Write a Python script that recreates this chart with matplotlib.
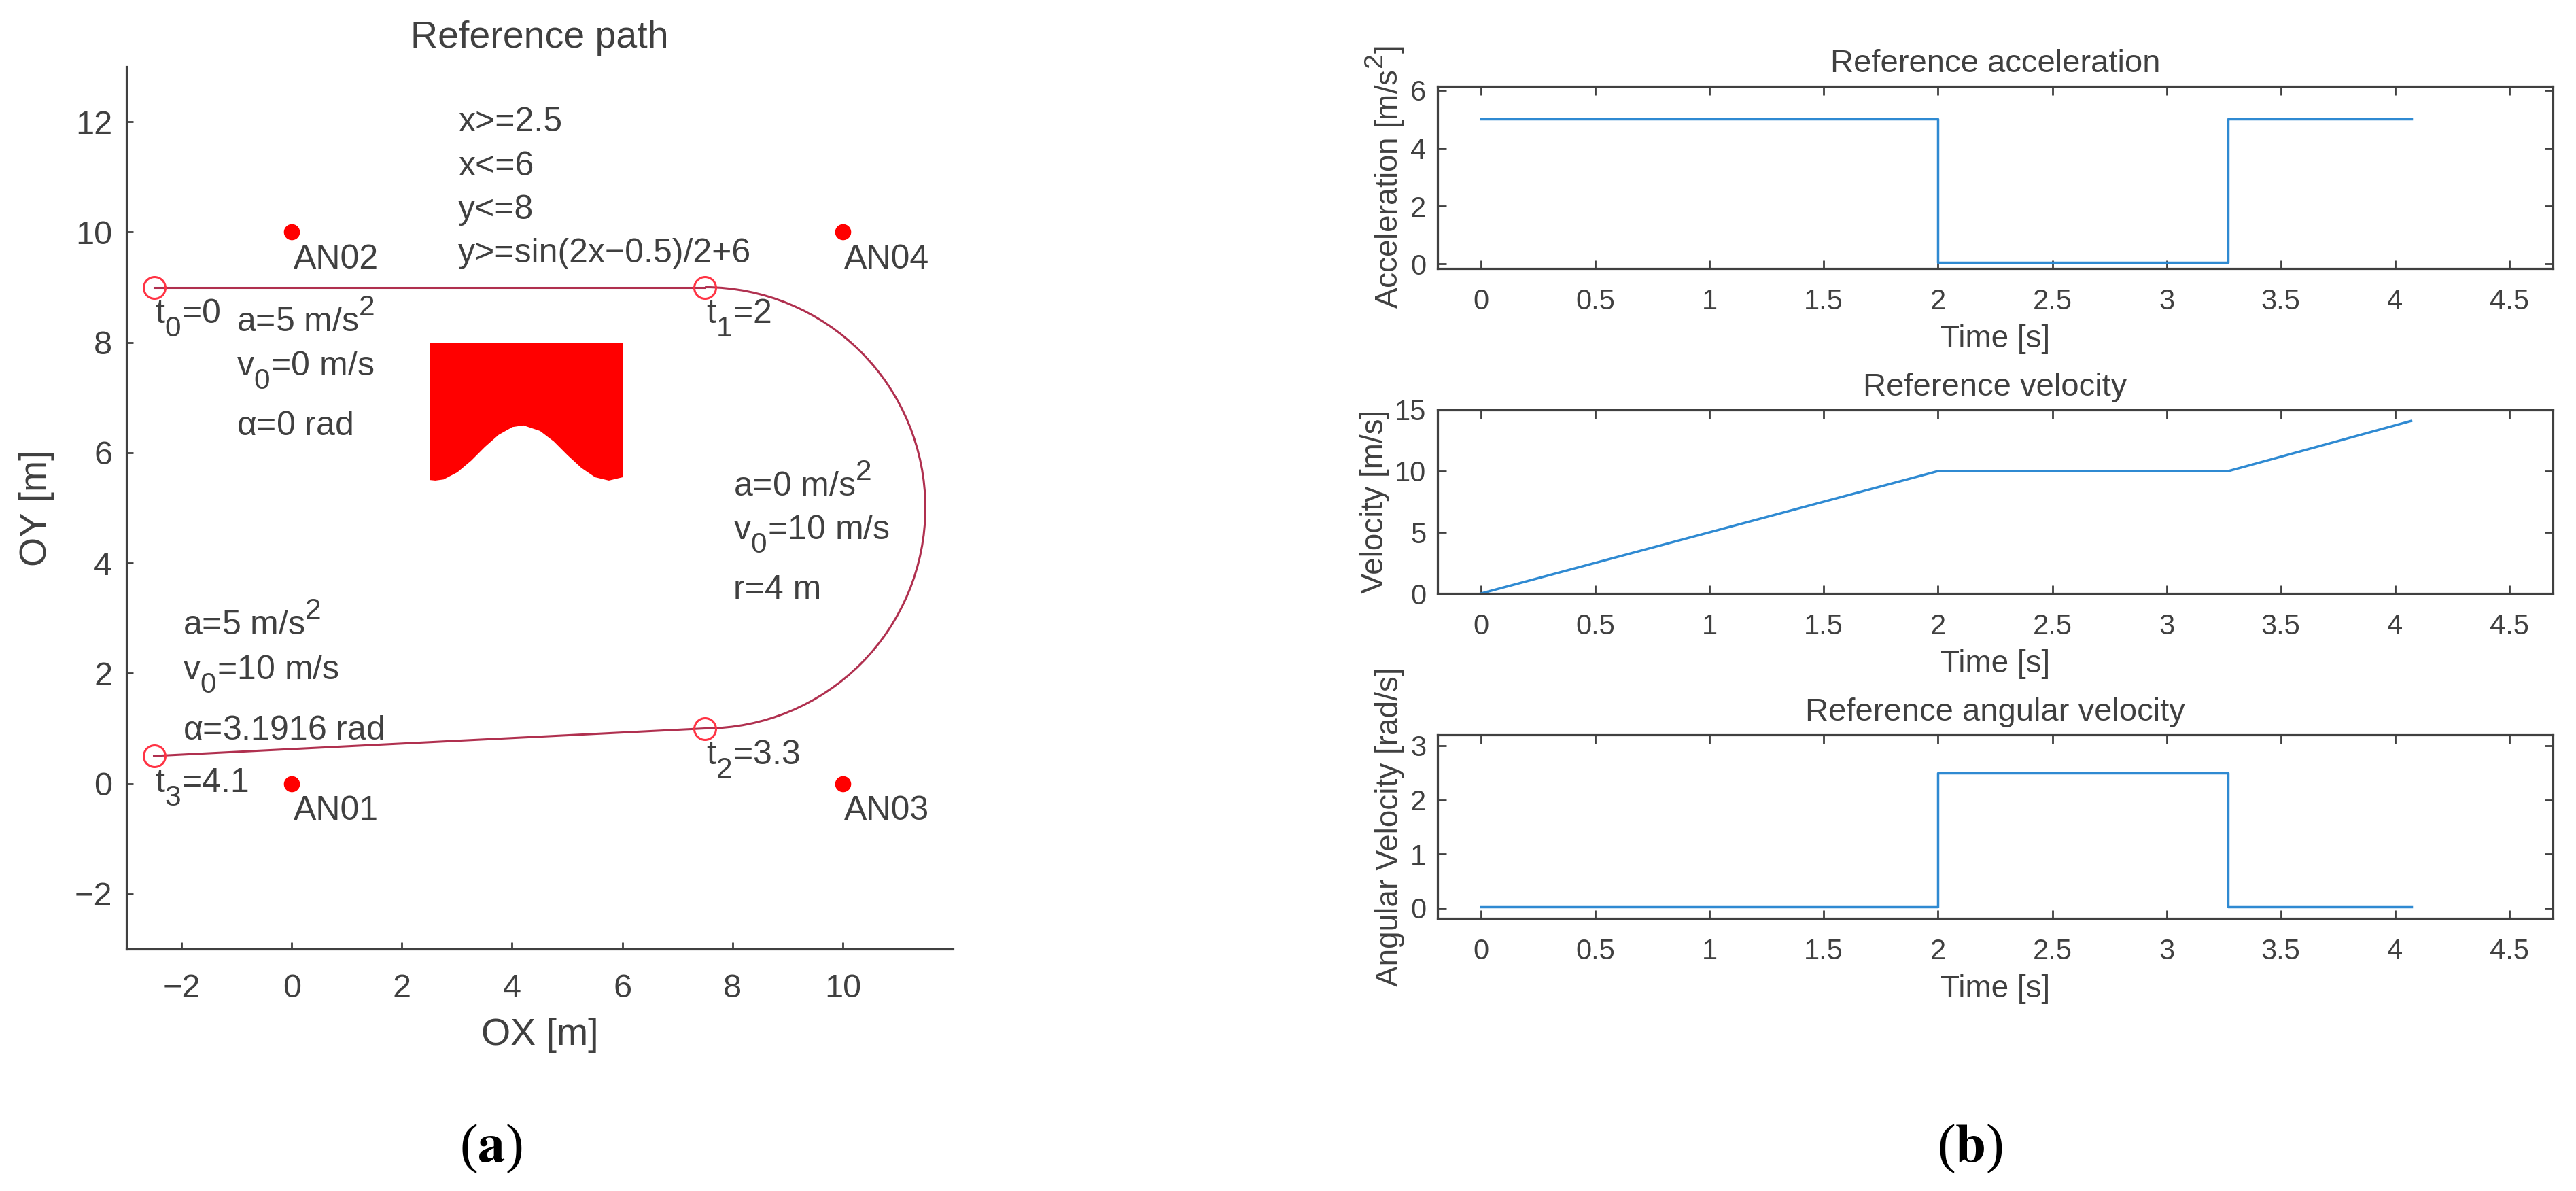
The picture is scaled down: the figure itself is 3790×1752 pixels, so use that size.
import matplotlib
matplotlib.use('Agg')
import matplotlib.pyplot as plt
from matplotlib.patches import Arc
from matplotlib import _mathtext

plt.rcParams['font.family'] = ['Liberation Sans', 'DejaVu Sans']
plt.rcParams['mathtext.default'] = 'regular'
# bigger and further off sub/superscripts, like the MATLAB text
_mathtext.SHRINK_FACTOR = 0.85
_mathtext.FontConstantsBase.sub1 = 0.75
_mathtext.FontConstantsBase.subdrop = 0.75
_mathtext.FontConstantsBase.sup1 = 0.85

W, H = 3791, 1752
DARK = '#404040'
BLUE = '#2f8ad2'
PATH = '#b0304f'

# left panel
line_x = [-2.5, 7.5]
line_y = [9, 9]
back_x = [7.5, -2.5]
back_y = [1, 0.5]
arc_center = (7.5, 5)
arc_radius = 4
wp_x = [-2.5, 7.5, 7.5, -2.5]
wp_y = [9, 9, 1, 0.5]
wp_labels = ['t$_0$=0', 't$_1$=2', 't$_2$=3.3', 't$_3$=4.1']
an_x = [0, 0, 10, 10]
an_y = [0, 10, 0, 10]
an_labels = ['AN01', 'AN02', 'AN03', 'AN04']
obst_x = [2.5, 2.6, 2.75, 3, 3.25, 3.5, 3.75, 4, 4.2, 4.5, 4.75, 5, 5.25, 5.5, 5.75, 6]
obst_y = [5.51, 5.5, 5.52, 5.65, 5.86, 6.11, 6.33, 6.47, 6.5, 6.4, 6.21, 5.96, 5.73, 5.56, 5.5, 5.56]
xy_ticks = [-2, 0, 2, 4, 6, 8, 10]
yy_ticks = [-2, 0, 2, 4, 6, 8, 10, 12]

# right panels
t_acc = [0, 2, 2, 3.27, 3.27, 4.07]
acc = [5, 5, 0.04, 0.04, 5, 5]
t_vel = [0, 2, 3.27, 4.07]
vel = [0, 10, 10, 14.1]
t_ang = [0, 2, 2, 3.27, 3.27, 4.07]
ang = [0.02, 0.02, 2.5, 2.5, 0.02, 0.02]
time_ticks = [0, 0.5, 1, 1.5, 2, 2.5, 3, 3.5, 4, 4.5]
time_labels = ['0', '0.5', '1', '1.5', '2', '2.5', '3', '3.5', '4', '4.5']


def add_ax(fig, x0, x1, y0, y1):
    # pixel box, y measured from the top of the image
    return fig.add_axes([x0 / W, 1 - y1 / H, (x1 - x0) / W, (y1 - y0) / H])


def style_ax(ax, lw=3.2):
    for s in ax.spines.values():
        s.set_linewidth(lw * 0.72)
        s.set_color(DARK)


fig = plt.figure(figsize=(W / 100, H / 100), dpi=100)

ax = add_ax(fig, 186, 1402, 98, 1396)
style_ax(ax)
ax.spines['top'].set_visible(False)
ax.spines['right'].set_visible(False)
ax.plot(line_x, line_y, color=PATH, lw=2.2)
ax.plot(back_x, back_y, color=PATH, lw=2.2)
ax.add_patch(Arc(arc_center, 2 * arc_radius, 2 * arc_radius, theta1=-90, theta2=90, color=PATH, lw=2.2))
ax.fill_between(obst_x, obst_y, 8, color='#ff0000', lw=0)
ax.plot(wp_x, wp_y, 'o', mfc='none', mec='#ff3344', ms=23, mew=2.2, ls='none')
ax.plot(an_x, an_y, 'o', color='#ff0000', ms=16, ls='none')
for x, y, s in zip(an_x, an_y, an_labels):
    ax.text(x + 0.03, y - 0.66, s, fontsize=36, color=DARK)
for x, y, s in zip(wp_x, wp_y, wp_labels):
    ax.text(x + 0.02, y - 0.66, s, fontsize=36, color=DARK)

for y, s in zip([11.83, 11.03, 10.24, 9.45], ['x>=2.5', 'x<=6', 'y<=8', 'y>=sin(2x\u22120.5)/2+6']):
    ax.text(3.02, y, s, fontsize=36, color=DARK)
for y, s in zip([8.19, 7.39], ['a=5 m/s$^2$', 'v$_0$=0 m/s']):
    ax.text(-1.0, y, s, fontsize=36, color=DARK)
ax.text(-1.0, 6.32, r'$\alpha$=0 rad', fontsize=36, color=DARK, math_fontfamily='stix')
for y, s in zip([5.21, 4.42, 3.35], ['a=0 m/s$^2$', 'v$_0$=10 m/s', 'r=4 m']):
    ax.text(8.01, y, s, fontsize=36, color=DARK)
for y, s in zip([2.69, 1.88], ['a=5 m/s$^2$', 'v$_0$=10 m/s']):
    ax.text(-1.98, y, s, fontsize=36, color=DARK)
ax.text(-1.98, 0.80, r'$\alpha$=3.1916 rad', fontsize=36, color=DARK, math_fontfamily='stix')

ax.set_xlim(-3, 12)
ax.set_ylim(-3, 13)
ax.set_xticks(xy_ticks)
ax.set_yticks(yy_ticks)
ax.tick_params(direction='in', length=7.5, width=2, color=DARK, labelcolor=DARK, labelsize=35)
ax.tick_params(axis='x', pad=26)
ax.tick_params(axis='y', pad=15)
ax.set_title('Reference path', fontsize=40, color=DARK, pad=20)
ax.set_xlabel('OX [m]', fontsize=40, color=DARK, labelpad=14)
ax.set_ylabel('OY [m]', fontsize=40, color=DARK)
ax.yaxis.set_label_coords((80 - 186) / (1402 - 186), 0.5)

# panels on the right
boxes = [(127, 395), (603, 873), (1081, 1351)]
series = [(t_acc, acc), (t_vel, vel), (t_ang, ang)]
titles = ['Reference acceleration', 'Reference velocity', 'Reference angular velocity']
ylabels = ['Acceleration [m/s$^2$]', 'Velocity [m/s]', 'Angular Velocity [rad/s]']
ylims = [(-0.16, 6.14), (0, 15), (-0.19, 3.2)]
yticks = [[0, 2, 4, 6], [0, 5, 10, 15], [0, 1, 2, 3]]
ylabel_x = [2069, 2045, 2067]

for i in range(3):
    y0, y1 = boxes[i]
    a = add_ax(fig, 2115, 3756, y0, y1)
    style_ax(a)
    a.plot(series[i][0], series[i][1], color=BLUE, lw=2.5)
    a.set_xlim(-0.19, 4.69)
    a.set_ylim(*ylims[i])
    a.set_xticks(time_ticks)
    a.set_xticklabels(time_labels)
    a.set_yticks(yticks[i])
    a.tick_params(direction='in', top=True, right=True, length=9, width=2, color=DARK,
                  labelcolor=DARK, labelsize=30)
    a.tick_params(axis='x', pad=21)
    a.tick_params(axis='y', pad=12)
    a.set_title(titles[i], fontsize=34, color=DARK, pad=15)
    a.set_xlabel('Time [s]', fontsize=33, color=DARK, labelpad=9)
    a.set_ylabel(ylabels[i], fontsize=33, color=DARK)
    a.yaxis.set_label_coords((ylabel_x[i] - 2115) / (3756 - 2115), 0.5)

fig.text(722 / W, 1 - 1690 / H, r'($\mathbf{a}$)', fontsize=58, family='Liberation Serif',
         math_fontfamily='stix', ha='center', va='center', color='black')
fig.text(2898 / W, 1 - 1690 / H, r'($\mathbf{b}$)', fontsize=58, family='Liberation Serif',
         math_fontfamily='stix', ha='center', va='center', color='black')

fig.savefig('out.png', dpi=100, facecolor='white')
